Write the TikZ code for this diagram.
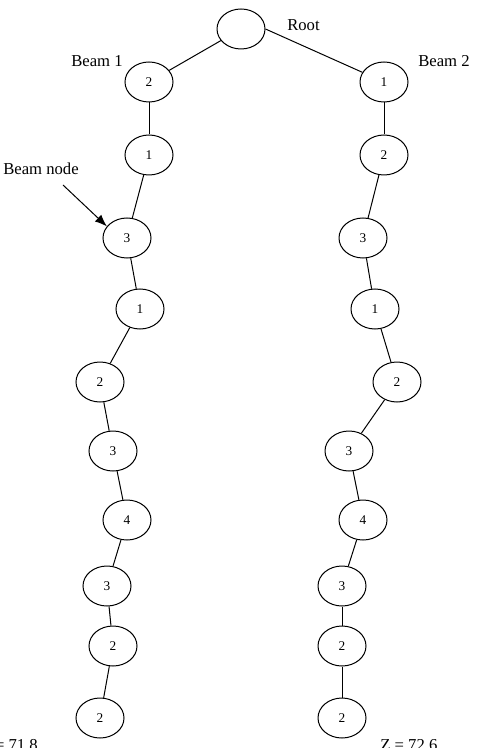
\documentclass[tikz,border=0pt]{standalone}
\usepackage{fontspec}
\setmainfont{Liberation Serif}
\usetikzlibrary{positioning}
\usetikzlibrary{arrows.meta}
\usetikzlibrary{shapes.geometric}

\begin{document}
\begin{tikzpicture}[x=0.75pt,y=-0.75pt,
    beamnode/.style={ellipse, draw, line width=0.75pt,
        minimum width=36pt, minimum height=30pt, inner sep=0pt,
        font=\fontsize{10}{12}\selectfont},
    txt/.style={inner sep=0pt, font=\fontsize{12.5}{15}\selectfont},
    link/.style={line width=0.75pt}]
\useasboundingbox (0,0) rectangle (477,748);

% Root
\node[beamnode] (root) at (241,29) {};
\node[txt, anchor=base west] (roottxt) at (287,31) {Root};

% Beam 1
\node[beamnode] (a1) at (149,82) {2};
\node[beamnode] (a2) at (149,155) {1};
\node[beamnode] (a3) at (127,238) {3};
\node[beamnode] (a4) at (140,309) {1};
\node[beamnode] (a5) at (100,382) {2};
\node[beamnode] (a6) at (113,451) {3};
\node[beamnode] (a7) at (127,520) {4};
\node[beamnode] (a8) at (107,586) {3};
\node[beamnode] (a9) at (113,646) {2};
\node[beamnode] (a10) at (100,718) {2};

% Beam 2
\node[beamnode] (b1) at (384,82) {1};
\node[beamnode] (b2) at (384,155) {2};
\node[beamnode] (b3) at (363,238) {3};
\node[beamnode] (b4) at (375,309) {1};
\node[beamnode] (b5) at (397,382) {2};
\node[beamnode] (b6) at (349,451) {3};
\node[beamnode] (b7) at (363,520) {4};
\node[beamnode] (b8) at (342,586) {3};
\node[beamnode] (b9) at (342,646) {2};
\node[beamnode] (b10) at (342,718) {2};

% Labels
\node[txt, anchor=base west] (beam1) at (71,67) {Beam 1};
\node[txt, anchor=base west] (beam2) at (418,67) {Beam 2};
\node[txt, anchor=base west] (beamnodetxt) at (3,175) {Beam node};
\node[txt, anchor=base east] (zleft) at (38,750) {Z = 71.8};
\node[txt, anchor=base west] (zright) at (380,750) {Z = 72.6};

% Links
\draw[link] (root) -- (a1);
\draw[link] (root.east) -- (b1);

\draw[link] (a1) -- (a2);
\draw[link] (a2) -- (a3);
\draw[link] (a3) -- (a4);
\draw[link] (a4) -- (a5);
\draw[link] (a5) -- (a6);
\draw[link] (a6) -- (a7);
\draw[link] (a7) -- (a8);
\draw[link] (a8) -- (a9);
\draw[link] (a9) -- (a10);

\draw[link] (b1) -- (b2);
\draw[link] (b2) -- (b3);
\draw[link] (b3) -- (b4);
\draw[link] (b4) -- (b5);
\draw[link] (b5) -- (b6);
\draw[link] (b6) -- (b7);
\draw[link] (b7) -- (b8);
\draw[link] (b8) -- (b9);
\draw[link] (b9) -- (b10);

% Pointer
\coordinate (tail) at (63,185);
\draw[link, -{Latex[length=9pt, width=7pt]}] (tail) -- (a3.150);
\end{tikzpicture}
\end{document}
